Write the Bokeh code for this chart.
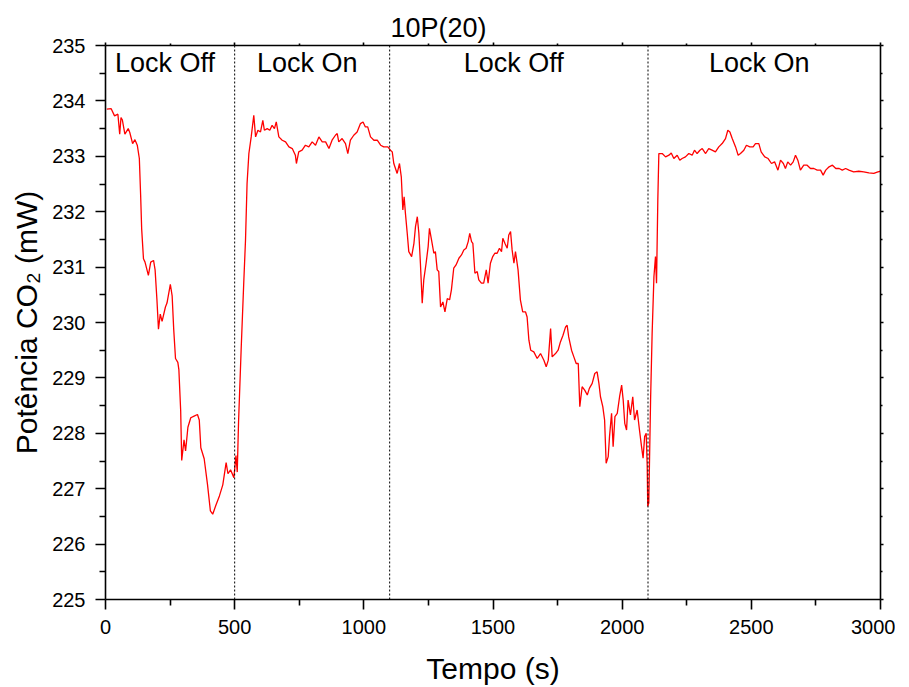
from bokeh.plotting import figure
from bokeh.models import (ColumnDataSource, FixedTicker, LinearAxis, Span, Range1d,
                          Title, CustomLabelingPolicy)
from bokeh.core.properties import value
from bokeh.embed import file_html
from bokeh.resources import INLINE

# ---------------- data ----------------
time_s = [
    5, 22, 35, 48, 55, 60, 65, 75, 88, 94, 105, 114, 123, 131, 136, 140, 147, 153, 166, 175,
    186, 192, 199, 205, 212, 219, 232, 238, 251, 258, 264, 271, 280, 284, 291, 295, 304, 310,
    319, 330, 343, 356, 363, 369, 382, 395, 406, 415, 428, 441, 454, 467, 474, 484, 497,
    505, 510, 515, 525, 535, 542, 548, 555, 564, 574, 581, 590, 600, 609, 615, 626, 636, 645,
    654, 661, 671, 684, 697, 710, 723, 735, 739, 748, 761, 774, 787, 800, 813, 826, 839, 852,
    865, 877, 890, 897, 903, 916, 929, 938, 948, 961, 974, 987, 997, 1006, 1015, 1026, 1039,
    1052, 1065, 1077, 1093, 1103, 1110, 1116, 1129, 1138, 1145, 1151, 1156, 1161, 1168, 1174,
    1185, 1194, 1200, 1207, 1213, 1219, 1226, 1232, 1241, 1249, 1254, 1262, 1271, 1277, 1284,
    1290, 1297, 1306, 1314, 1323, 1332, 1339, 1348, 1357, 1368, 1378, 1387, 1396, 1404, 1410,
    1417, 1422, 1430, 1439, 1445, 1455, 1464, 1474, 1481, 1490, 1499, 1507, 1516, 1525, 1533,
    1538, 1546, 1555, 1561, 1568, 1574, 1581, 1587, 1597, 1606, 1615, 1626, 1632, 1639, 1646,
    1658, 1671, 1684, 1697, 1706, 1714, 1723, 1729, 1742, 1752, 1761, 1771, 1781, 1787, 1793,
    1804, 1813, 1822, 1830, 1836, 1845, 1855, 1865, 1873, 1884, 1894, 1903, 1910, 1916, 1925,
    1932, 1938, 1946, 1951, 1959, 1965, 1972, 1981, 1990, 1998, 2004, 2010, 2017, 2023, 2032,
    2041, 2048, 2058, 2067, 2075, 2081, 2087, 2093, 2097, 2099, 2103, 2110, 2116, 2123, 2129,
    2133, 2138, 2142, 2155, 2168, 2181, 2190, 2200, 2213, 2223, 2232, 2245, 2258, 2271, 2280,
    2290, 2301, 2310, 2323, 2335, 2348, 2361, 2374, 2387, 2400, 2409, 2417, 2426, 2439, 2449,
    2458, 2471, 2481, 2494, 2507, 2516, 2529, 2538, 2552, 2565, 2578, 2590, 2603, 2613, 2624,
    2632, 2641, 2652, 2662, 2671, 2680, 2690, 2703, 2716, 2729, 2742, 2755, 2768, 2778, 2788,
    2801, 2814, 2827, 2840, 2852, 2865, 2878, 2896, 2916, 2935, 2955, 2974, 2990, 3000,
]
power_mw = [
    233.85, 233.86, 233.73, 233.76, 233.40, 233.70, 233.66, 233.40, 233.50, 233.43, 233.23,
    233.30, 233.20, 232.96, 232.30, 231.69, 231.15, 231.09, 230.85, 231.09, 231.12, 230.95,
    230.42, 229.88, 230.15, 230.02, 230.28, 230.35, 230.69, 230.48, 229.88, 229.35, 229.28,
    229.15, 228.41, 227.51, 227.88, 227.68, 228.11, 228.28, 228.31, 228.34, 228.24, 227.74,
    227.54, 227.07, 226.60, 226.54, 226.71, 226.87, 227.07, 227.47, 227.27, 227.34, 227.20,
    227.60, 227.30, 228.20, 229.50, 230.70, 231.49, 232.51, 233.05, 233.35, 233.74, 233.35,
    233.47, 233.44, 233.65, 233.47, 233.50, 233.47, 233.56, 233.50, 233.62, 233.35, 233.29,
    233.26, 233.17, 233.14, 233.02, 232.87, 233.08, 233.11, 233.20, 233.17, 233.26, 233.20,
    233.35, 233.26, 233.26, 233.14, 233.29, 233.38, 233.41, 233.26, 233.32, 233.23, 233.05,
    233.29, 233.38, 233.44, 233.59, 233.62, 233.53, 233.53, 233.35, 233.29, 233.29, 233.20,
    233.17, 233.17, 233.11, 233.08, 232.87, 232.69, 232.87, 232.63, 232.03, 232.27, 231.97,
    231.61, 231.28, 231.19, 231.43, 231.73, 231.91, 231.61, 231.07, 230.35, 230.77, 231.07,
    231.37, 231.70, 231.49, 231.25, 231.28, 230.95, 230.92, 230.28, 230.37, 230.19, 230.43,
    230.41, 230.59, 230.98, 231.04, 231.16, 231.22, 231.31, 231.34, 231.46, 231.61, 231.46,
    231.43, 230.89, 230.92, 230.77, 230.71, 230.71, 230.95, 230.71, 231.07, 231.19, 231.25,
    231.25, 231.34, 231.28, 231.52, 231.43, 231.34, 231.58, 231.64, 231.31, 231.07, 231.28,
    230.95, 230.41, 230.19, 230.19, 230.10, 229.68, 229.50, 229.47, 229.35, 229.44, 229.32,
    229.20, 229.32, 229.89, 229.38, 229.44, 229.50, 229.65, 229.77, 229.92, 229.95, 229.74,
    229.50, 229.38, 229.26, 229.26, 228.48, 228.84, 228.78, 228.69, 228.81, 228.90, 229.08,
    229.11, 228.90, 228.66, 228.48, 228.24, 227.46, 227.58, 227.94, 228.36, 227.76, 228.30,
    228.36, 228.66, 228.87, 228.60, 228.18, 228.06, 228.60, 228.33, 228.66, 228.24, 228.42,
    228.06, 227.76, 227.55, 227.94, 228.00, 227.40, 226.68, 226.74, 228.60, 229.80, 230.83,
    231.19, 230.71, 232.21, 233.05, 233.05, 232.99, 233.02, 233.06, 232.96, 233.02, 232.93,
    232.96, 232.99, 233.05, 233.02, 233.11, 233.05, 233.11, 233.14, 233.05, 233.14, 233.11,
    233.08, 233.17, 233.23, 233.32, 233.47, 233.44, 233.32, 233.17, 233.02, 233.05, 233.11,
    233.20, 233.17, 233.17, 233.23, 233.23, 233.08, 232.99, 232.96, 232.87, 232.90, 232.75,
    232.93, 232.87, 232.78, 232.90, 232.84, 232.90, 233.02, 232.93, 232.75, 232.84, 232.84,
    232.78, 232.78, 232.75, 232.75, 232.66, 232.75, 232.81, 232.84, 232.78, 232.78, 232.75,
    232.78, 232.75, 232.72, 232.73, 232.72, 232.70, 232.69, 232.72, 232.73,
]

lock_bounds = [0, 500, 1100, 2100, 3000]
lock_labels = ["Lock Off", "Lock On", "Lock Off", "Lock On"]

x_ticks = [0, 500, 1000, 1500, 2000, 2500, 3000]
x_minor = [250, 750, 1250, 1750, 2250, 2750]
y_ticks = [225, 226, 227, 228, 229, 230, 231, 232, 233, 234, 235]
y_minor = [225.5, 226.5, 227.5, 228.5, 229.5, 230.5, 231.5, 232.5, 233.5, 234.5]

title_text = "10P(20)"
x_label = "Tempo (s)"
y_label = "Potência CO₂ (mW)"

FONT = "Liberation Sans"

# ---------------- figure ----------------
p = figure(width=895, height=687, output_backend="svg", toolbar_location=None,
           x_range=Range1d(0, 3000), y_range=Range1d(225, 235),
           min_border_left=105, min_border_right=15, min_border_top=45, min_border_bottom=87)
p.outline_line_color = None
p.xgrid.visible = False
p.ygrid.visible = False
p.background_fill_color = "white"
p.border_fill_color = "white"

src = ColumnDataSource(dict(t=time_s, p=power_mw))
p.line("t", "p", source=src, line_color="#ff0000", line_width=1.3)

# lock boundaries (dotted)
for b in lock_bounds[1:-1]:
    p.add_layout(Span(location=b, dimension="height", line_color="black",
                      line_width=1, line_dash="2 2"))

# lock labels centred in each segment, just under the top of the frame
mids = [(a + b) / 2 for a, b in zip(lock_bounds[:-1], lock_bounds[1:])]
lab_src = ColumnDataSource(dict(x=mids, y=[235] * len(mids), text=lock_labels))
p.text("x", "y", text="text", source=lab_src, text_font=value(FONT),
       text_font_size="27px", text_align="center", text_baseline="alphabetic",
       text_color="black", x_offset=-5, y_offset=17)


def hide_policy():
    return CustomLabelingPolicy(code="for (const i of indices) indices.unset(i); return indices")


def style_axis(ax, tick_out=10, minor_out=6):
    ax.axis_line_width = 1.6
    ax.axis_line_color = "black"
    ax.major_tick_line_width = 1.6
    ax.minor_tick_line_width = 1.6
    ax.major_tick_in = 0
    ax.minor_tick_in = 0
    ax.major_tick_out = tick_out
    ax.minor_tick_out = minor_out
    ax.major_label_text_font = FONT
    ax.major_label_text_font_size = "20px"
    ax.major_label_text_color = "black"
    ax.axis_label_text_font = FONT
    ax.axis_label_text_font_size = "30px"
    ax.axis_label_text_font_style = "normal"
    ax.axis_label_text_color = "black"

# bottom / left
xa = p.xaxis[0]
xa.ticker = FixedTicker(ticks=x_ticks, minor_ticks=x_minor)
xa.axis_label = x_label
style_axis(xa)
xa.major_label_standoff = 10
xa.axis_label_standoff = 15

ya = p.yaxis[0]
ya.ticker = FixedTicker(ticks=y_ticks, minor_ticks=y_minor)
ya.axis_label = y_label
style_axis(ya)
ya.major_label_standoff = 10
ya.axis_label_standoff = 6
ya.major_label_orientation = "horizontal"

# top / right frame axes (ticks only, no labels)
top = LinearAxis(ticker=FixedTicker(ticks=x_ticks, minor_ticks=x_minor))
style_axis(top, tick_out=3, minor_out=2)
top.major_label_policy = hide_policy()
top.major_label_text_font_size = "0px"
top.major_label_standoff = 0
p.add_layout(top, "above")

right = LinearAxis(ticker=FixedTicker(ticks=y_ticks, minor_ticks=y_minor))
style_axis(right, tick_out=3, minor_out=2)
right.major_label_policy = hide_policy()
right.major_label_text_font_size = "0px"
right.major_label_standoff = 0
p.add_layout(right, "right")

# title, outside the top axis, left of the frame centre as in the reference
p.add_layout(Title(text=title_text, align="left", offset=285,
                   text_font=FONT, text_font_size="27px", text_font_style="normal",
                   text_color="black", standoff=0), "above")

open("out.html", "w").write(file_html(p, INLINE))
